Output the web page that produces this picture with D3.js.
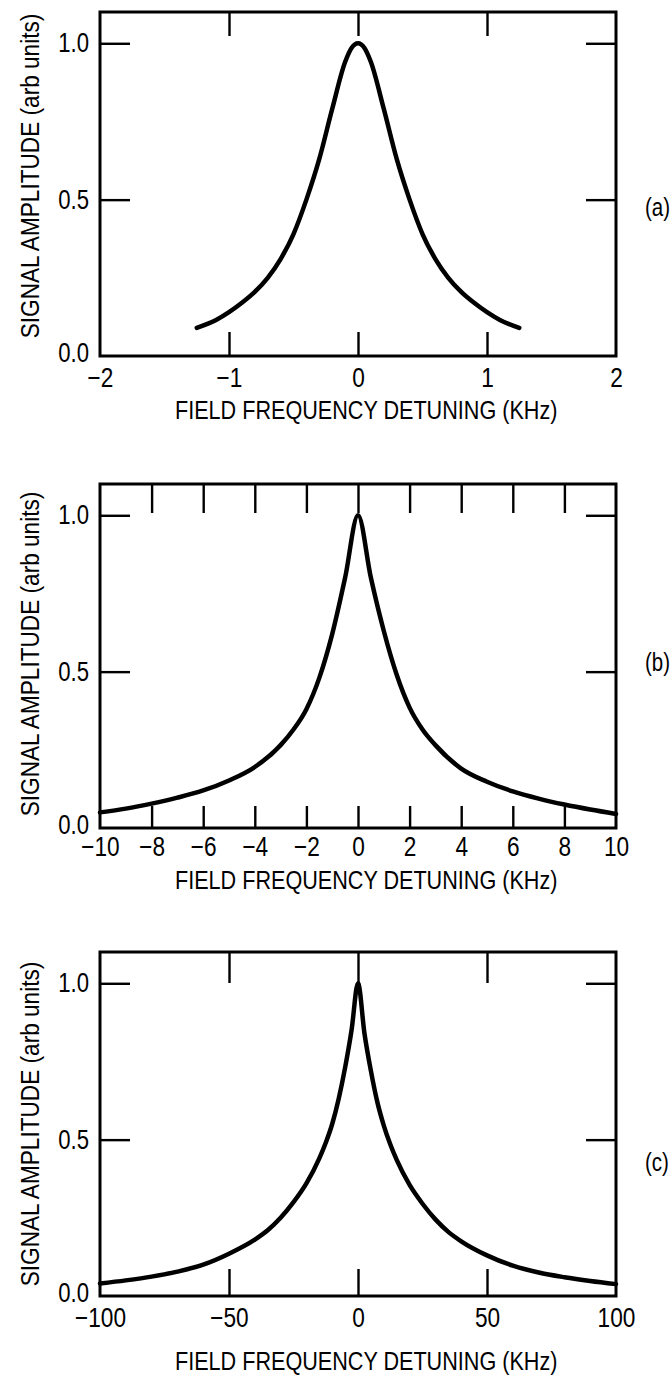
<!DOCTYPE html>
<html>
<head>
<meta charset="utf-8">
<script src="https://cdn.jsdelivr.net/npm/d3@7"></script>
<style>
  body { margin: 0; background: #fff; }
  text { font-family: "Liberation Sans", Arial, sans-serif; fill: #000; }
</style>
</head>
<body>
<div id="container"></div>
<script>
// (a) narrow sweep, kHz
const xA = [-1.25, -1.1, -1.0, -0.9, -0.8, -0.7, -0.6, -0.5, -0.4, -0.3, -0.2, -0.1, -0.05, 0,
            0.05, 0.1, 0.2, 0.3, 0.4, 0.5, 0.6, 0.7, 0.8, 0.9, 1.0, 1.1, 1.25]
const yA = [0.09, 0.115, 0.14, 0.17, 0.205, 0.25, 0.31, 0.39, 0.50, 0.63, 0.79, 0.94, 0.985, 1.0,
            0.985, 0.94, 0.79, 0.63, 0.50, 0.39, 0.31, 0.25, 0.205, 0.17, 0.14, 0.115, 0.09]

// (b) medium sweep
const xB = [-10, -9, -8, -7, -6, -5, -4, -3, -2.5, -2, -1.5, -1, -0.5, 0,
            0.5, 1, 1.5, 2, 2.5, 3, 4, 5, 6, 7, 8, 9, 10]
const yB = [0.05, 0.062, 0.078, 0.097, 0.12, 0.152, 0.195, 0.265, 0.315, 0.38, 0.48, 0.62, 0.80, 1.0,
            0.80, 0.63, 0.49, 0.385, 0.315, 0.265, 0.19, 0.148, 0.117, 0.094, 0.075, 0.059, 0.045]

// (c) wide sweep
const xC = [-100, -90, -80, -70, -60, -50, -40, -35, -30, -25, -20, -15, -12.5, -10, -7.5, -5, -2.5, 0,
            2.5, 5, 7.5, 10, 12.5, 15, 20, 25, 30, 35, 40, 50, 60, 70, 80, 90, 100]
const yC = [0.04, 0.05, 0.062, 0.078, 0.10, 0.135, 0.18, 0.21, 0.25, 0.30, 0.36, 0.44, 0.49, 0.55, 0.63, 0.73, 0.85, 1.0,
            0.84, 0.72, 0.62, 0.545, 0.485, 0.435, 0.355, 0.295, 0.245, 0.205, 0.175, 0.13, 0.097, 0.075, 0.06, 0.048, 0.038]

// tick values / labels
const xLabelsA = [-2, -1, 0, 1, 2]
const xTicksA = [-1, 0, 1]
const xLabelsB = [-10, -8, -6, -4, -2, 0, 2, 4, 6, 8, 10]
const xTicksB = [-8, -6, -4, -2, 0, 2, 4, 6, 8]
const xLabelsC = [-100, -50, 0, 50, 100]
const xTicksC = [-50, 0, 50]
const yLabels = [0, 0.5, 1.0]
const yTicks = [0.5, 1.0]

const panelTags = ['(a)', '(b)', '(c)']
const xTitle = 'FIELD FREQUENCY DETUNING (KHz)'
const yTitle = 'SIGNAL AMPLITUDE (arb units)'

const W = 672, H = 1379
const left = 100, right = 616, plotH = 344

const panels = [
    { tag: panelTags[0], xs: xA, ys: yA, domain: [-2, 2], labels: xLabelsA, ticks: xTicksA,
      top: 12, topLen: 24, botLen: 24, pad: 12, titleY: 419, tagDy: 7, yTitleC: 176 },
    { tag: panelTags[1], xs: xB, ys: yB, domain: [-10, 10], labels: xLabelsB, ticks: xTicksB,
      top: 484, topLen: 29, botLen: 22, pad: 9, titleY: 889, tagDy: -10, yTitleC: 654 },
    { tag: panelTags[2], xs: xC, ys: yC, domain: [-100, 100], labels: xLabelsC, ticks: xTicksC,
      top: 952, topLen: 31, botLen: 27, pad: 12, titleY: 1370, tagDy: 22, yTitleC: 1124 },
]

const svg = d3.select('#container')
    .append('svg').attr('width', W).attr('height', H)

const drawPanel = (p) => {
    const bottom = p.top + plotH
    const x = d3.scaleLinear().domain(p.domain).range([left, right])
    const y = d3.scaleLinear().domain([0, 1.1]).range([bottom, p.top])
    const g = svg.append('g')

    // frame
    g.append('rect')
        .attr('x', left).attr('y', p.top)
        .attr('width', right - left).attr('height', plotH)
        .attr('fill', 'none').attr('stroke', '#000').attr('stroke-width', 3)

    // bottom axis: inward ticks + labels
    const bAxis = g.append('g').attr('transform', 'translate(0,' + bottom + ')')
        .call(d3.axisBottom(x).tickValues(p.labels).tickSizeInner(-p.botLen).tickSizeOuter(0)
            .tickPadding(p.pad).tickFormat(d3.format('d')))
    bAxis.select('.domain').remove()
    bAxis.selectAll('.tick line').attr('stroke-width', 2.4)
        .filter(d => !p.ticks.includes(d)).remove()
    bAxis.selectAll('text').attr('font-size', 27).attr('font-family', null)
        .attr('transform', 'scale(0.84,1)')

    // top axis: ticks only
    const tAxis = g.append('g').attr('transform', 'translate(0,' + p.top + ')')
        .call(d3.axisTop(x).tickValues(p.ticks).tickSizeInner(-p.topLen).tickSizeOuter(0).tickFormat(''))
    tAxis.select('.domain').remove()
    tAxis.selectAll('.tick line').attr('stroke-width', 2.4)

    // left axis
    const lAxis = g.append('g').attr('transform', 'translate(' + left + ',0)')
        .call(d3.axisLeft(y).tickValues(yLabels).tickSizeInner(-30).tickSizeOuter(0)
            .tickPadding(0).tickFormat(d3.format('.1f')))
    lAxis.select('.domain').remove()
    lAxis.selectAll('.tick line').attr('stroke-width', 2.4)
        .filter(d => !yTicks.includes(d)).remove()
    lAxis.selectAll('text').attr('font-size', 27).attr('font-family', null)
        .attr('x', 0)
        .attr('transform', d => 'translate(-11,' + (d === 0 ? -3 : 0) + ') scale(0.82,1)')

    // right axis
    const rAxis = g.append('g').attr('transform', 'translate(' + right + ',0)')
        .call(d3.axisRight(y).tickValues(yTicks).tickSizeInner(-30).tickSizeOuter(0).tickFormat(''))
    rAxis.select('.domain').remove()
    rAxis.selectAll('.tick line').attr('stroke-width', 2.4)

    // curve
    const line = d3.line()
        .x((d, i) => x(p.xs[i]))
        .y(d => y(d))
        .curve(d3.curveMonotoneX)
    g.append('path')
        .attr('d', line(p.ys))
        .attr('fill', 'none')
        .attr('stroke', '#000')
        .attr('stroke-width', 4.5)
        .attr('stroke-linecap', 'round')

    // titles
    g.append('text')
        .attr('transform', 'translate(175,' + p.titleY + ') scale(0.864,1)')
        .attr('font-size', 25)
        .text(xTitle)

    g.append('text')
        .attr('transform', 'translate(39,' + p.yTitleC + ') rotate(-90) scale(0.905,1)')
        .attr('text-anchor', 'middle')
        .attr('font-size', 25)
        .text(yTitle)

    g.append('text')
        .attr('transform', 'translate(645,' + (y(0.5) + p.tagDy + 9) + ') scale(0.82,1)')
        .attr('font-size', 25)
        .text(p.tag)
}

panels.forEach(drawPanel)
</script>
</body>
</html>
